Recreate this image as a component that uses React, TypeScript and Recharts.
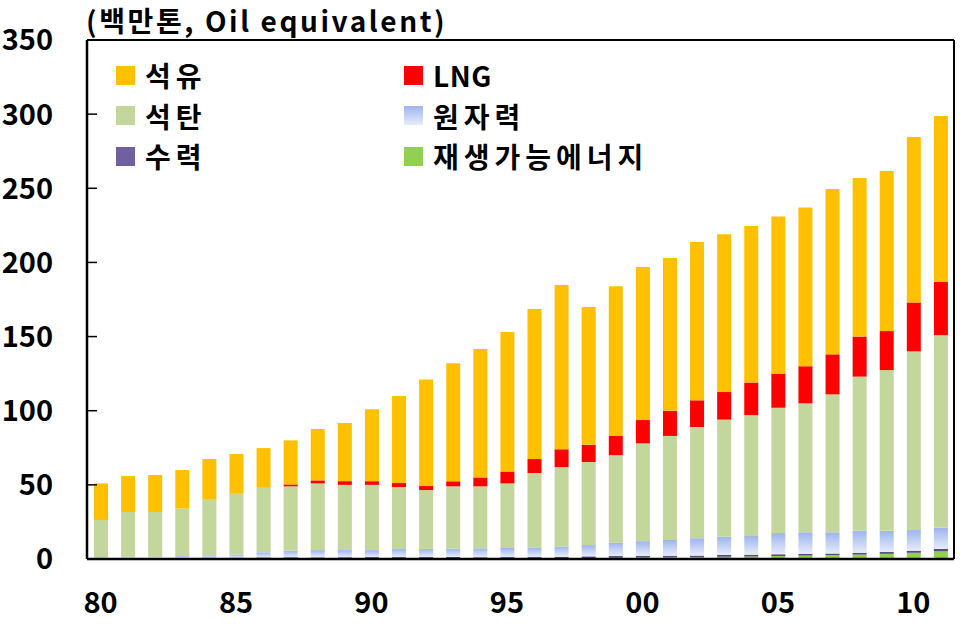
import React from 'react';
import { BarChart, Bar, XAxis, YAxis, Legend, CartesianGrid } from 'recharts';

const years = [
  '80', '81', '82', '83', '84', '85', '86', '87', '88', '89',
  '90', '91', '92', '93', '94', '95', '96', '97', '98', '99',
  '00', '01', '02', '03', '04', '05', '06', '07', '08', '09',
  '10', '11',
];

// 백만톤 (Oil equivalent)
const renewable = [
  0.2, 0.2, 0.2, 0.2, 0.2, 0.2, 0.2, 0.2, 0.2, 0.2,
  0.2, 0.3, 0.3, 0.3, 0.3, 0.3, 0.3, 0.5, 0.6, 0.8,
  1.0, 1.2, 1.3, 1.5, 1.7, 2.0, 2.3, 2.6, 3.0, 3.5,
  4.2, 5.2,
];
const hydro = [
  0.5, 0.6, 0.6, 0.7, 0.8, 0.8, 0.9, 1.0, 0.9, 1.0,
  1.1, 1.0, 1.0, 1.1, 0.9, 1.0, 1.0, 1.0, 1.2, 1.2,
  1.1, 1.0, 1.0, 1.3, 1.2, 1.2, 1.2, 1.1, 1.2, 1.2,
  1.4, 1.6,
];
const nuclear = [
  0.3, 0.7, 0.7, 1.1, 1.5, 2.0, 3.4, 4.3, 4.9, 4.8,
  4.7, 5.4, 5.5, 5.6, 6.0, 6.1, 6.5, 6.9, 7.6, 9.0,
  9.9, 10.6, 11.7, 12.2, 12.6, 14.3, 14.5, 14.3, 14.8, 14.3,
  13.9, 14.2,
];
const coal = [
  25.3, 30.2, 30.2, 32, 37.5, 41, 43.5, 43.5, 45, 44,
  44, 41.8, 39.7, 42, 41.8, 43.6, 50.2, 53.6, 56, 59,
  66, 70.2, 75, 79, 81.5, 84.5, 87, 93, 104, 108.4,
  120.5, 130,
];
const lng = [
  0, 0, 0, 0, 0, 0, 0, 1.3, 2, 2.5,
  2.5, 2.7, 2.7, 3.4, 6, 8, 9.4, 12, 11.6, 13,
  15.7, 17, 18, 18.6, 22, 23, 25, 27, 27, 26.3,
  33, 36,
];
const oil = [
  24.7, 24.3, 24.9, 26, 27.4, 26.8, 26.8, 29.7, 34.7, 39.2,
  48.5, 58.8, 71.8, 79.6, 86.6, 94, 101.2, 110.8, 93, 101,
  103.3, 103, 106.8, 106.4, 105.5, 106, 107, 111.5, 107, 107.9,
  111.6, 111.7,
];

const yTicks = [0, 50, 100, 150, 200, 250, 300, 350];

const data = years.map((year, i) => ({
  year,
  renewable: renewable[i],
  hydro: hydro[i],
  nuclear: nuclear[i],
  coal: coal[i],
  lng: lng[i],
  oil: oil[i],
}));

const FONT = '"Noto Sans CJK KR", "Noto Sans", sans-serif';

const legendItems = [
  { name: '석유', color: '#FFC000' },
  { name: 'LNG', color: '#FF0000' },
  { name: '석탄', color: '#C3D69B' },
  { name: '원자력', color: 'linear-gradient(#9DB4EE, #E6ECFA)' },
  { name: '수력', color: '#7060A0' },
  { name: '재생가능에너지', color: '#92D050' },
];

const LegendBox = () => (
  <div
    style={{
      display: 'grid',
      gridTemplateColumns: '288px 320px',
      gridAutoRows: '40.5px',
      fontFamily: FONT,
      fontWeight: 700,
      fontSize: 28,
      color: '#000',
    }}
  >
    {legendItems.map((item) => (
      <div key={item.name} style={{ display: 'flex', alignItems: 'center', height: 40.5 }}>
        <span style={{ width: 19, height: 19, background: item.color, marginRight: 10, flex: 'none' }} />
        <span style={{ lineHeight: '40px', letterSpacing: item.name === 'LNG' ? 0.5 : 5 }}>{item.name}</span>
      </div>
    ))}
  </div>
);

const YTick = (props: any) => {
  const { x, y, payload } = props;
  return (
    <g>
      <text
        x={x}
        y={y}
        dy="0.36em"
        textAnchor="end"
        fill="#000"
        fontFamily={FONT}
        fontWeight={700}
        fontSize={29}
      >
        {payload.value}
      </text>
      {payload.value > 0 && payload.value < 350 && (
        <line x1={x + 34} x2={x + 44} y1={y} y2={y} stroke="#000" strokeWidth={1.5} />
      )}
    </g>
  );
};

export default function App() {
  return (
    <div style={{ position: 'absolute', left: 0, top: 0, width: 976, height: 638, background: '#fff' }}>
      <div
        style={{
          position: 'absolute',
          left: 86,
          top: 0,
          fontFamily: FONT,
          fontWeight: 700,
          fontSize: 28,
          letterSpacing: 2.6,
          lineHeight: '41px',
          color: '#000',
          whiteSpace: 'nowrap',
        }}
      >
        (백만톤, Oil equivalent)
      </div>
      <BarChart
        width={976}
        height={638}
        data={data}
        margin={{ top: 40, right: 22, bottom: 19, left: 7 }}
        barSize={14}
      >
        <defs>
          <linearGradient id="nuclearFill" x1="0" y1="0" x2="0" y2="1">
            <stop offset="0%" stopColor="#9DB4EE" />
            <stop offset="100%" stopColor="#E6ECFA" />
          </linearGradient>
        </defs>
        <CartesianGrid
          stroke="#000"
          strokeWidth={2}
          horizontalCoordinatesGenerator={({ offset }: any) => [offset.top]}
          verticalCoordinatesGenerator={({ offset }: any) => [offset.left + offset.width]}
        />
        <XAxis
          dataKey="year"
          height={60}
          interval={4}
          tickLine={false}
          tickSize={0}
          tickMargin={33}
          axisLine={{ stroke: '#000', strokeWidth: 2.5 }}
          tick={{ fill: '#000', fontSize: 29, fontWeight: 700, fontFamily: FONT }}
        />
        <YAxis
          width={80}
          domain={[0, 350]}
          ticks={yTicks}
          tickLine={false}
          tickSize={0}
          tickMargin={34}
          axisLine={{ stroke: '#000', strokeWidth: 2.5 }}
          tick={<YTick />}
        />
        <Legend
          layout="horizontal"
          verticalAlign="middle"
          align="center"
          content={<LegendBox />}
          wrapperStyle={{ position: 'absolute', top: 55, left: 116, width: 620 }}
        />
        <Bar dataKey="renewable" name="재생가능에너지" stackId="a" fill="#92D050" isAnimationActive={false} />
        <Bar dataKey="hydro" name="수력" stackId="a" fill="#5A4A80" isAnimationActive={false} />
        <Bar dataKey="nuclear" name="원자력" stackId="a" fill="url(#nuclearFill)" isAnimationActive={false} />
        <Bar dataKey="coal" name="석탄" stackId="a" fill="#C3D69B" isAnimationActive={false} />
        <Bar dataKey="lng" name="LNG" stackId="a" fill="#FF0000" isAnimationActive={false} />
        <Bar dataKey="oil" name="석유" stackId="a" fill="#FFC000" isAnimationActive={false} />
      </BarChart>
    </div>
  );
}
